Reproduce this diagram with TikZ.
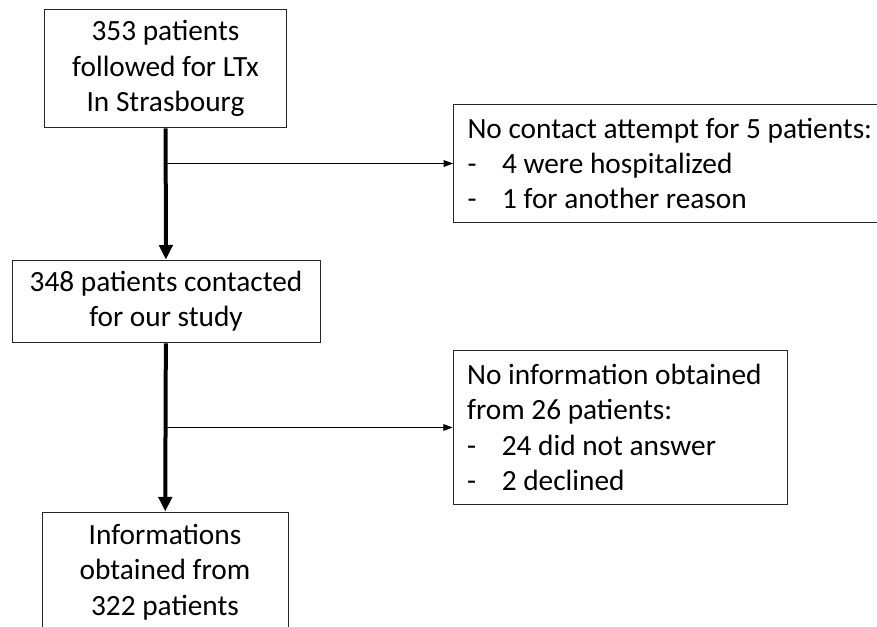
\documentclass[tikz,border=0pt]{standalone}
\usepackage{fontspec}
\setmainfont{Carlito}
\usepackage{tikz}
\usetikzlibrary{arrows.meta, backgrounds}
\tikzstyle{block} = [rectangle, draw=black!85, line width=0.75pt, fill=white, align=center, font=\fontsize{22}{26.5}\selectfont]
\tikzstyle{sidebox} = [rectangle, draw=black!85, line width=0.75pt, fill=white, align=flush left, inner xsep=10.5pt, font=\fontsize{22}{26.5}\selectfont]
\tikzstyle{mainarrow} = [line width=3pt, -{Triangle[length=11pt, width=10pt]}]
\tikzstyle{sidearrow} = [line width=0.75pt, -{Triangle[length=7pt, width=5pt]}]
\newcommand{\itm}[1]{\makebox[26pt][l]{-}#1}

\begin{document}
\begin{tikzpicture}[x=0.75pt, y=-0.75pt, background rectangle/.style={fill=white}, show background rectangle]

    \useasboundingbox (0, 0) rectangle (877, 627);

    \node (followed) [block, minimum width=182pt, minimum height=89pt] at (165.5, 68.5) {353 patients\\followed for LTx\\In Strasbourg};
    \node (contacted) [block, minimum width=231pt, minimum height=62pt] at (166, 301.5) {348 patients contacted\\for our study};
    \node (obtained) [block, minimum width=184.5pt, minimum height=90pt] at (165, 572) {Informations\\obtained from\\322 patients};

    \node (noattempt) [sidebox, text width=312pt, minimum height=89pt, anchor=west] at (453, 163.5) {No contact attempt for 5 patients:\\\itm{4 were hospitalized}\\\itm{1 for another reason}};
    \node (noinfo) [sidebox, text width=230pt, minimum height=116pt] at (620.5, 427.5) {No information obtained\\from 26 patients:\\\itm{24 did not answer}\\\itm{2 declined}};

    \draw [mainarrow] (followed) -- (contacted);
    \draw [mainarrow] (contacted) -- (obtained);

    \draw [sidearrow] (followed.south |- noattempt.west) -- (noattempt.west);
    \draw [sidearrow] (followed.south |- noinfo.west) -- (noinfo.west);

\end{tikzpicture}
\end{document}
